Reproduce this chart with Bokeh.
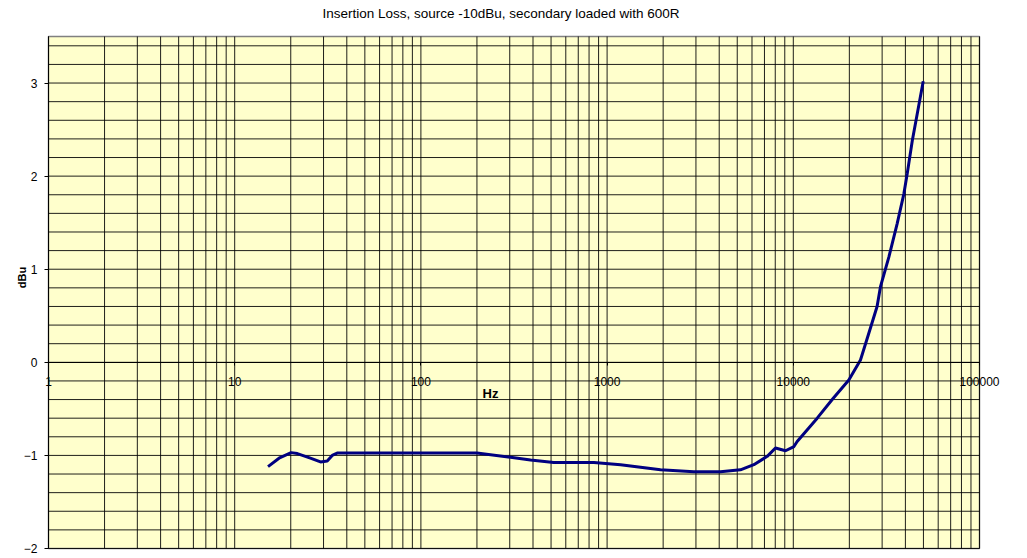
from bokeh.plotting import figure
from bokeh.models import FixedTicker, PrintfTickFormatter, Label, Range1d
from bokeh.embed import file_html
from bokeh.resources import INLINE
import math

# ---- data ----
freq_hz = [15.1, 17.3, 20.1, 21.7, 25.5, 28.9, 31.4, 33.4, 35.5, 50, 100, 200,
           303, 388, 517, 849, 1181, 1935, 2923, 4066, 5202, 6137, 7245, 8020,
           9080, 10080, 10490, 13440, 16180, 19870, 22950, 25420, 28180, 29370,
           32590, 36130, 39250, 40940, 43550, 49870]
level_dbu = [-1.12, -1.03, -0.97, -0.98, -1.03, -1.07, -1.06, -1.00, -0.975,
             -0.975, -0.975, -0.975, -1.02, -1.05, -1.075, -1.075, -1.10, -1.155,
             -1.175, -1.175, -1.155, -1.10, -1.01, -0.92, -0.95, -0.905, -0.85,
             -0.60, -0.40, -0.19, 0.025, 0.31, 0.60, 0.81, 1.13, 1.49, 1.81, 2.03,
             2.38, 3.02]
x_major = [1, 10, 100, 1000, 10000, 100000]
x_minor = [m * d for d in [1, 10, 100, 1000, 10000] for m in range(2, 10)]
y_major = [-2, -1, 0, 1, 2, 3]
y_grid = [round(-2 + 0.2 * i, 1) for i in range(28)]   # -2.0 ... 3.4
x_min, x_max = 1, 100000
y_min, y_max = -2, 3.5
title_text = "Insertion Loss, source -10dBu, secondary loaded with 600R"
x_title = "Hz"
y_title = "dBu"

FONT = "Liberation Sans"
W, H = 1027, 558
# plot area in pixels: left 48, right 979, top 36, bottom 548
dec_px = (979 - 48) / 5.0
unit_px = (548 - 36) / (y_max - y_min)
xr = Range1d(10 ** (-48 / dec_px), 10 ** ((W - 48) / dec_px))
yr = Range1d(y_min - (H - 548) / unit_px, y_max + 36 / unit_px)

p = figure(width=W, height=H, x_axis_type="log", x_range=xr, y_range=yr,
           output_backend="svg", toolbar_location=None,
           min_border_left=0, min_border_right=0,
           min_border_top=0, min_border_bottom=0)
p.background_fill_color = "white"
p.border_fill_color = "white"
p.outline_line_color = None
p.xgrid.visible = False
p.ygrid.visible = False

# plot area
p.quad(left=[x_min], right=[x_max], bottom=[y_min], top=[y_max],
       fill_color="#FFFFCC", line_color="#808080", line_width=1.5)

# grid lines
x_lines = x_major + x_minor
p.segment(x0=x_lines, y0=[y_min] * len(x_lines), x1=x_lines, y1=[y_max] * len(x_lines),
          line_color="black", line_alpha=0.88, line_width=1)
p.segment(x0=[x_min] * len(y_grid), y0=y_grid, x1=[x_max] * len(y_grid), y1=y_grid,
          line_color="black", line_alpha=0.88, line_width=1)

# x axis crossing at y = 0
p.xaxis.ticker = FixedTicker(ticks=x_major, minor_ticks=[])
p.xaxis.formatter = PrintfTickFormatter(format="%d")
p.xaxis.fixed_location = 0
p.xaxis.bounds = (x_min, x_max)
p.xaxis.axis_line_color = "black"
p.xaxis.major_tick_out = 3
p.xaxis.major_tick_in = 0
p.xaxis.minor_tick_out = 0
p.xaxis.minor_tick_in = 0
p.xaxis.major_label_standoff = 12
p.xaxis.major_label_text_font = FONT
p.xaxis.major_label_text_font_size = "12px"
p.xaxis.major_label_text_color = "black"

# y axis at x = 1
p.yaxis.ticker = FixedTicker(ticks=y_major, minor_ticks=[])
p.yaxis.fixed_location = x_min
p.yaxis.bounds = (y_min, y_max)
p.yaxis.axis_line_color = "black"
p.yaxis.major_tick_out = 4
p.yaxis.major_tick_in = 0
p.yaxis.minor_tick_out = 0
p.yaxis.minor_tick_in = 0
p.yaxis.major_label_standoff = 7
p.yaxis.major_label_text_font = FONT
p.yaxis.major_label_text_font_size = "12px"
p.yaxis.major_label_text_color = "black"

p.line(freq_hz, level_dbu, line_color="#000080", line_width=3)

p.add_layout(Label(x=500.5, y=H - 12.5, x_units="screen", y_units="screen",
                   text=title_text, text_align="center", text_baseline="middle",
                   text_font=FONT, text_font_size="13.5px", text_color="black"))
p.add_layout(Label(x=490, y=H - 393, x_units="screen", y_units="screen",
                   text=x_title, text_align="center", text_baseline="middle",
                   text_font=FONT, text_font_size="13px", text_font_style="bold",
                   text_color="black"))
p.add_layout(Label(x=21.5, y=H - 277, x_units="screen", y_units="screen",
                   text=y_title, text_align="center", text_baseline="middle",
                   angle=math.pi / 2,
                   text_font=FONT, text_font_size="11px", text_font_style="bold",
                   text_color="black"))

open("out.html", "w").write(file_html(p, INLINE))
